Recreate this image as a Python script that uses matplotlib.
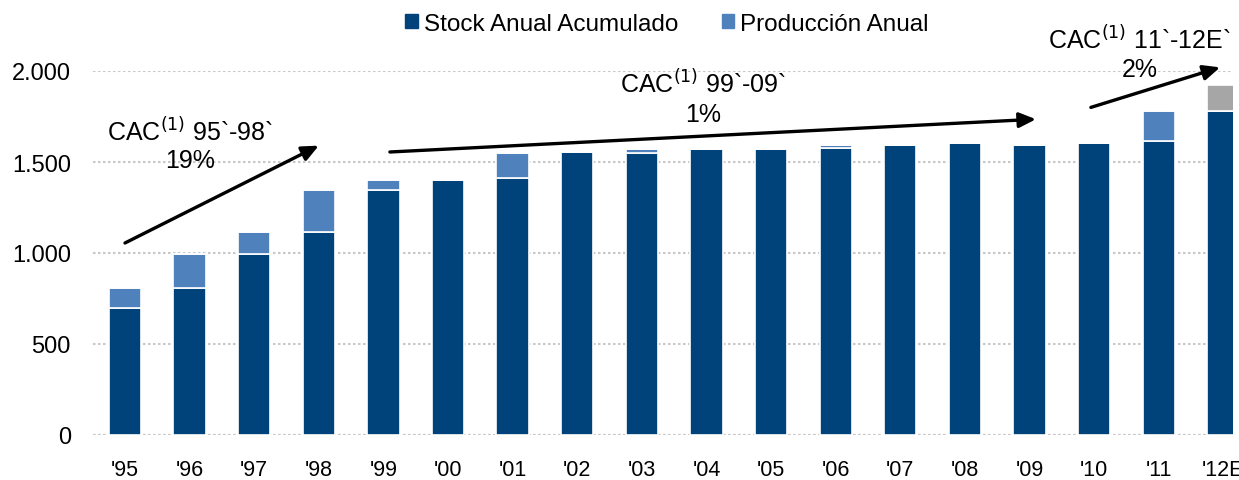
import matplotlib.pyplot as plt
from matplotlib.patches import Patch
from matplotlib.ticker import FuncFormatter

plt.rcParams['font.family'] = ['Liberation Sans', 'DejaVu Sans']

years = ["'95", "'96", "'97", "'98", "'99", "'00", "'01", "'02", "'03",
         "'04", "'05", "'06", "'07", "'08", "'09", "'10", "'11", "'12E"]
stock = [700, 810, 995, 1115, 1345, 1400, 1410, 1555, 1552,
         1572, 1572, 1575, 1595, 1605, 1595, 1605, 1615, 1780]
produccion = [110, 185, 120, 230, 55, 0, 140, 0, 20,
              0, 0, 18, 0, 0, 0, 0, 165, 0]
estimado = [0] * 17 + [143]

dark = '#00427A'
light = '#4F81BD'
grey = '#A6A6A6'

fig = plt.figure(figsize=(12.39, 4.81), dpi=100)
ax = fig.add_axes([93 / 1239, 45 / 481, (1233 - 93) / 1239, 364 / 481])

x = range(len(years))
w = 0.5
ax.bar(x, stock, width=w, color=dark, edgecolor='white', linewidth=1.2, zorder=3)
ax.bar(x, produccion, width=w, bottom=stock, color=light, edgecolor='white', linewidth=1.2, zorder=3)
tot = [s + p for s, p in zip(stock, produccion)]
ax.bar(x, estimado, width=w, bottom=tot, color=grey, edgecolor='white', linewidth=1.2, zorder=3)

ax.set_xlim(-0.495, 17.15)
ax.set_ylim(0, 2000)
ax.set_yticks([0, 500, 1000, 1500, 2000])
ax.yaxis.set_major_formatter(FuncFormatter(lambda v, p: f'{int(v):,}'.replace(',', '.')))
ax.set_xticks(list(x))
ax.set_xticklabels(years)
ax.tick_params(length=0, colors='black')
ax.tick_params(axis='y', pad=16, labelsize=17)
ax.tick_params(axis='x', pad=17, labelsize=15.5)
for s in ax.spines.values():
    s.set_visible(False)
ax.grid(axis='y', color='#C8C8C8', linestyle=(0, (1.2, 1.2)), linewidth=1.5, zorder=0)
ax.set_axisbelow(True)
ax.axhline(0, color='#C8C8C8', linestyle=(0, (1.2, 1.2)), linewidth=1.5, zorder=0)

# flechas de crecimiento
arrow = dict(arrowstyle='-|>,head_length=1.0,head_width=0.45', color='black', lw=2.4,
             shrinkA=0, shrinkB=0)
ax.annotate('', xy=(3.0, 1590), xytext=(0.0, 1055), arrowprops=arrow, annotation_clip=False)
ax.annotate('', xy=(14.1, 1735), xytext=(4.1, 1555), arrowprops=arrow, annotation_clip=False)
ax.annotate('', xy=(16.95, 2020), xytext=(14.95, 1800), arrowprops=arrow, annotation_clip=False)

tkw = dict(ha='center', va='center', fontsize=18, clip_on=False)
ax.text(1.0, 1670, 'CAC$^{(1)}$ 95`-98`', **tkw)
ax.text(1.0, 1510, '19%', **tkw)
ax.text(8.95, 1935, 'CAC$^{(1)}$ 99`-09`', **tkw)
ax.text(8.95, 1765, '1%', **tkw)
ax.text(15.7, 2175, 'CAC$^{(1)}$ 11`-12E`', **tkw)
ax.text(15.7, 2010, '2%', **tkw)

handles = [Patch(color=dark, label='Stock Anual Acumulado'),
           Patch(color=light, label='Producción Anual')]
fig.legend(handles=handles, loc='center', bbox_to_anchor=(667 / 1239, 1 - 25 / 481),
           ncol=2, frameon=False, fontsize=17.5, handlelength=0.5, handleheight=0.5,
           handletextpad=0.25, columnspacing=1.8)

fig.savefig('out.png', dpi=100)
